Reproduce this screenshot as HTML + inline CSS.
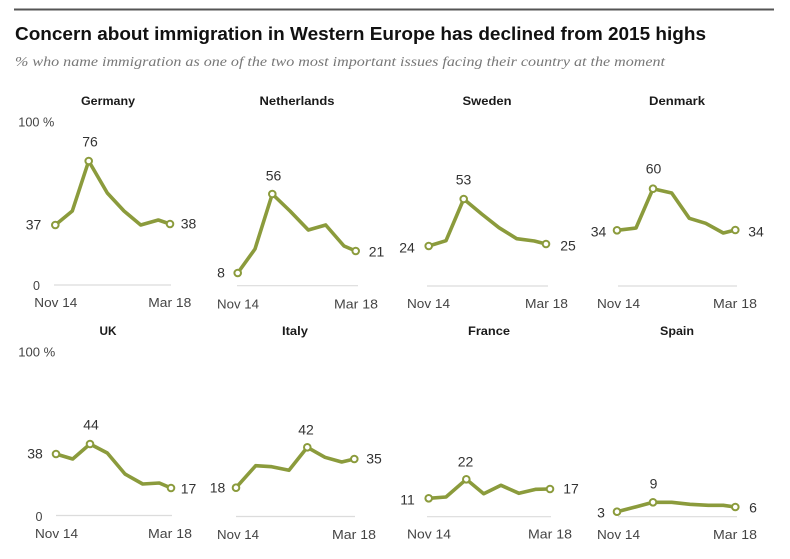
<!DOCTYPE html>
<html>
<head>
<meta charset="utf-8">
<style>
html,body{margin:0;padding:0;background:#fff;}
svg{display:block;}
text{font-family:"Liberation Sans",Arial,sans-serif;}
.t{font-size:12px;font-weight:bold;fill:#1a1a1a;text-anchor:middle;}
.v{font-size:14px;fill:#333;text-anchor:middle;}
.ax{font-size:12.5px;fill:#444;}
.xl{font-size:13px;fill:#444;}
.ln{fill:none;stroke:#8b9b3c;stroke-width:3.6;stroke-linejoin:round;stroke-linecap:round;}
.mk{fill:#fff;stroke:#8b9b3c;stroke-width:2;}
.bl{stroke:#dcdcdc;stroke-width:1.2;}
</style>
</head>
<body>
<svg width="790" height="559" viewBox="0 0 790 559" xmlns="http://www.w3.org/2000/svg">
<rect width="790" height="559" fill="#fff"/>
<line x1="14" y1="9.5" x2="774" y2="9.5" stroke="#555" stroke-width="2"/>
<text x="15" y="40" font-size="18" font-weight="bold" fill="#111" textLength="691" lengthAdjust="spacingAndGlyphs">Concern about immigration in Western Europe has declined from 2015 highs</text>
<text x="15" y="66" font-size="14" font-style="italic" fill="#777" style="font-family:'Liberation Serif',serif" textLength="650" lengthAdjust="spacingAndGlyphs">% who name immigration as one of the two most important issues facing their country at the moment</text>

<text class="t" x="108" y="105" textLength="54" lengthAdjust="spacingAndGlyphs">Germany</text>
<text class="t" x="297" y="105" textLength="75" lengthAdjust="spacingAndGlyphs">Netherlands</text>
<text class="t" x="487" y="105" textLength="49" lengthAdjust="spacingAndGlyphs">Sweden</text>
<text class="t" x="677" y="105" textLength="56" lengthAdjust="spacingAndGlyphs">Denmark</text>

<text class="t" x="108" y="335" textLength="17" lengthAdjust="spacingAndGlyphs">UK</text>
<text class="t" x="295" y="335" textLength="26" lengthAdjust="spacingAndGlyphs">Italy</text>
<text class="t" x="489" y="335" textLength="42" lengthAdjust="spacingAndGlyphs">France</text>
<text class="t" x="677" y="335" textLength="34" lengthAdjust="spacingAndGlyphs">Spain</text>

<text class="ax" x="18.3" y="126.7" textLength="36" lengthAdjust="spacingAndGlyphs">100 %</text>
<text class="ax" x="33" y="290">0</text>
<text class="ax" x="18.3" y="356.5" textLength="37" lengthAdjust="spacingAndGlyphs">100 %</text>
<text class="ax" x="35.5" y="521">0</text>

<line class="bl" x1="54" y1="285" x2="171" y2="285"/>
<line class="bl" x1="237" y1="285.7" x2="358" y2="285.7"/>
<line class="bl" x1="427" y1="286" x2="548" y2="286"/>
<line class="bl" x1="618" y1="286" x2="737" y2="286"/>
<line class="bl" x1="56" y1="515.5" x2="172" y2="515.5"/>
<line class="bl" x1="236" y1="516.5" x2="355" y2="516.5"/>
<line class="bl" x1="427" y1="516.7" x2="551" y2="516.7"/>
<line class="bl" x1="618" y1="516.7" x2="737" y2="516.7"/>

<g class="xl">
<text x="34.3" y="307" textLength="43" lengthAdjust="spacingAndGlyphs">Nov 14</text>
<text x="148.3" y="307" textLength="43" lengthAdjust="spacingAndGlyphs">Mar 18</text>
<text x="217" y="308.5" textLength="42" lengthAdjust="spacingAndGlyphs">Nov 14</text>
<text x="334" y="308.5" textLength="44" lengthAdjust="spacingAndGlyphs">Mar 18</text>
<text x="407" y="308" textLength="43" lengthAdjust="spacingAndGlyphs">Nov 14</text>
<text x="525" y="308" textLength="43" lengthAdjust="spacingAndGlyphs">Mar 18</text>
<text x="597" y="308" textLength="43" lengthAdjust="spacingAndGlyphs">Nov 14</text>
<text x="713" y="308" textLength="44" lengthAdjust="spacingAndGlyphs">Mar 18</text>

<text x="35" y="538" textLength="43" lengthAdjust="spacingAndGlyphs">Nov 14</text>
<text x="148" y="538" textLength="44" lengthAdjust="spacingAndGlyphs">Mar 18</text>
<text x="217" y="539" textLength="42" lengthAdjust="spacingAndGlyphs">Nov 14</text>
<text x="332" y="539" textLength="44" lengthAdjust="spacingAndGlyphs">Mar 18</text>
<text x="407" y="538.5" textLength="44" lengthAdjust="spacingAndGlyphs">Nov 14</text>
<text x="528" y="538.5" textLength="44" lengthAdjust="spacingAndGlyphs">Mar 18</text>
<text x="597" y="539" textLength="43" lengthAdjust="spacingAndGlyphs">Nov 14</text>
<text x="713" y="539" textLength="44" lengthAdjust="spacingAndGlyphs">Mar 18</text>
</g>

<polyline class="ln" points="55.3,225 72.3,211 88.7,161 107.3,193 124,211 140.7,225 158.3,220 170,224"/>
<polyline class="ln" points="237.7,273 255,249 272.3,194 290,211 308.3,230 325.7,225 344,246 355.7,251"/>
<polyline class="ln" points="428.7,246 446,240.7 463.7,199 481.7,214 499,227.7 516.7,238.7 534.3,241 546,244"/>
<polyline class="ln" points="617,230.3 636,228 653,188.7 671.7,193 689.3,218.3 705.7,223.3 723.3,233 735.3,230"/>
<polyline class="ln" points="56,454 72.7,459 90,444 107.3,453 125,474 142.7,484 159.3,483 171,488"/>
<polyline class="ln" points="236,487.7 255.7,465.7 271.7,466.7 289,470.3 307.3,447.3 325,457.3 341.7,462 354.3,459"/>
<polyline class="ln" points="428.7,498.3 446,497 466.3,479.3 483.7,493.7 501,485.3 519,493.3 536,489.3 550,489"/>
<polyline class="ln" points="617,511.7 634.3,507.3 653,502.3 671.7,502.3 690,504.3 708.3,505.3 723.3,505.3 735.3,507"/>

<circle class="mk" cx="55.3" cy="225" r="3.3"/><circle class="mk" cx="88.7" cy="161" r="3.3"/><circle class="mk" cx="170" cy="224" r="3.3"/>
<circle class="mk" cx="237.7" cy="273" r="3.3"/><circle class="mk" cx="272.3" cy="194" r="3.3"/><circle class="mk" cx="355.7" cy="251" r="3.3"/>
<circle class="mk" cx="428.7" cy="246" r="3.3"/><circle class="mk" cx="463.7" cy="199" r="3.3"/><circle class="mk" cx="546" cy="244" r="3.3"/>
<circle class="mk" cx="617" cy="230.3" r="3.3"/><circle class="mk" cx="653" cy="188.7" r="3.3"/><circle class="mk" cx="735.3" cy="230" r="3.3"/>
<circle class="mk" cx="56" cy="454" r="3.3"/><circle class="mk" cx="90" cy="444" r="3.3"/><circle class="mk" cx="171" cy="488" r="3.3"/>
<circle class="mk" cx="236" cy="487.7" r="3.3"/><circle class="mk" cx="307.3" cy="447.3" r="3.3"/><circle class="mk" cx="354.3" cy="459" r="3.3"/>
<circle class="mk" cx="428.7" cy="498.3" r="3.3"/><circle class="mk" cx="466.3" cy="479.3" r="3.3"/><circle class="mk" cx="550" cy="489" r="3.3"/>
<circle class="mk" cx="617" cy="511.7" r="3.3"/><circle class="mk" cx="653" cy="502.3" r="3.3"/><circle class="mk" cx="735.3" cy="507" r="3.3"/>

<g class="v">
<text x="33.5" y="229.5">37</text><text x="90" y="146.7">76</text><text x="188.5" y="228.5">38</text>
<text x="221" y="277.5">8</text><text x="273.5" y="180.5">56</text><text x="376.5" y="256.5">21</text>
<text x="407" y="252.5">24</text><text x="463.5" y="184.5">53</text><text x="568" y="250.5">25</text>
<text x="598.5" y="236.5">34</text><text x="653.5" y="173.5">60</text><text x="756" y="236.5">34</text>
<text x="35" y="458.5">38</text><text x="91" y="429.5">44</text><text x="188.5" y="493.5">17</text>
<text x="217.5" y="492.5">18</text><text x="306" y="434.5">42</text><text x="374" y="463.5">35</text>
<text x="407.5" y="504.5">11</text><text x="465.5" y="466.5">22</text><text x="571" y="493.5">17</text>
<text x="601" y="517.5">3</text><text x="653.5" y="488.5">9</text><text x="753" y="512.5">6</text>
</g>
</svg>
</body>
</html>
